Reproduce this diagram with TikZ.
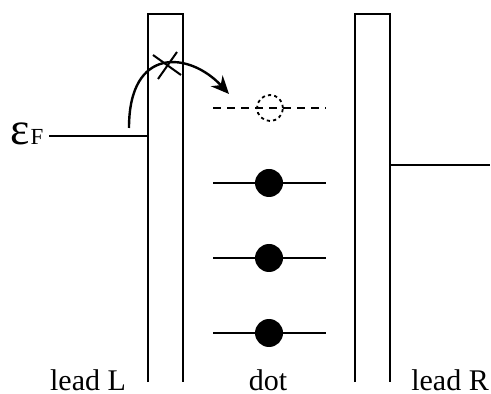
\documentclass[tikz,border=0pt]{standalone}
\usepackage{fontspec}
\setmainfont{Liberation Serif}
\usetikzlibrary{arrows.meta}
\begin{document}
\begin{tikzpicture}[
  x=0.5pt, y=-0.5pt,
  every node/.append style={font=\fontsize{15}{17}\selectfont, inner sep=0pt},
  wall/.style={draw, line width=1.2pt},
  level/.style={draw, line width=1.2pt},
  emptylevel/.style={draw, line width=1.2pt, dash pattern=on 4pt off 3pt},
  electron/.style={circle, fill, minimum size=14pt},
  hole/.style={circle, draw, line width=0.9pt, dash pattern=on 1.6pt off 1.6pt,
    minimum size=13pt},
  hop/.style={draw, line width=1.2pt, -{Stealth[length=9pt, width=8pt]}},
  blocked/.style={draw, line width=1pt},
  leadlabel/.style={anchor=base},
]
\useasboundingbox (0,0) rectangle (491,394);

% ------------------------------------------------------------ the barriers
% Two tall boxes, open at the bottom.
\draw[wall] (148,382) -- (148,14) -- (183,14) -- (183,382);
\draw[wall] (355,382) -- (355,14) -- (390,14) -- (390,382);

% ------------------------------------------------------- the lead levels
\node[anchor=base west] (epsF) at (10,145)
  {{\fontsize{23}{23}\selectfont ε}\hspace{0.5pt}{\fontsize{11.5}{11.5}\selectfont F}};
\coordinate (fermiLstart) at (49,136);
\coordinate (fermiL) at (148,136);
\draw[level] (fermiLstart) -- (fermiL);
\coordinate (fermiR) at (390,165);
\coordinate (fermiRend) at (490,165);
\draw[level] (fermiR) -- (fermiRend);

% ------------------------------------------------------- the dot levels
% The top one is empty, the three below it are filled.
\draw[emptylevel] (213,108) -- (326,108);
\node[hole] (empty) at (270,108) {};
\foreach \y/\n in {183/one, 258/two, 333/three}{
  \draw[level] (213,\y) -- (326,\y);
  \node[electron] (dot\n) at (269,\y) {};
}

% ------------------------------------------------------ the blocked hop
\coordinate (hopstart) at (129,128);
\coordinate (hopend) at (229,94);
\draw[hop] (hopstart) .. controls (129,45) and (190,52) .. (hopend);
\coordinate (cross) at (167,64);
\draw[blocked] (153,55) -- (181,75);
\draw[blocked] (158,79) -- (177,52);

% ------------------------------------------------------------ the labels
\node[leadlabel] (leadL) at (88,390) {lead L};
\node[leadlabel] (dotlabel) at (268,390) {dot};
\node[leadlabel] (leadR) at (450,390) {lead R};

\end{tikzpicture}
\end{document}
